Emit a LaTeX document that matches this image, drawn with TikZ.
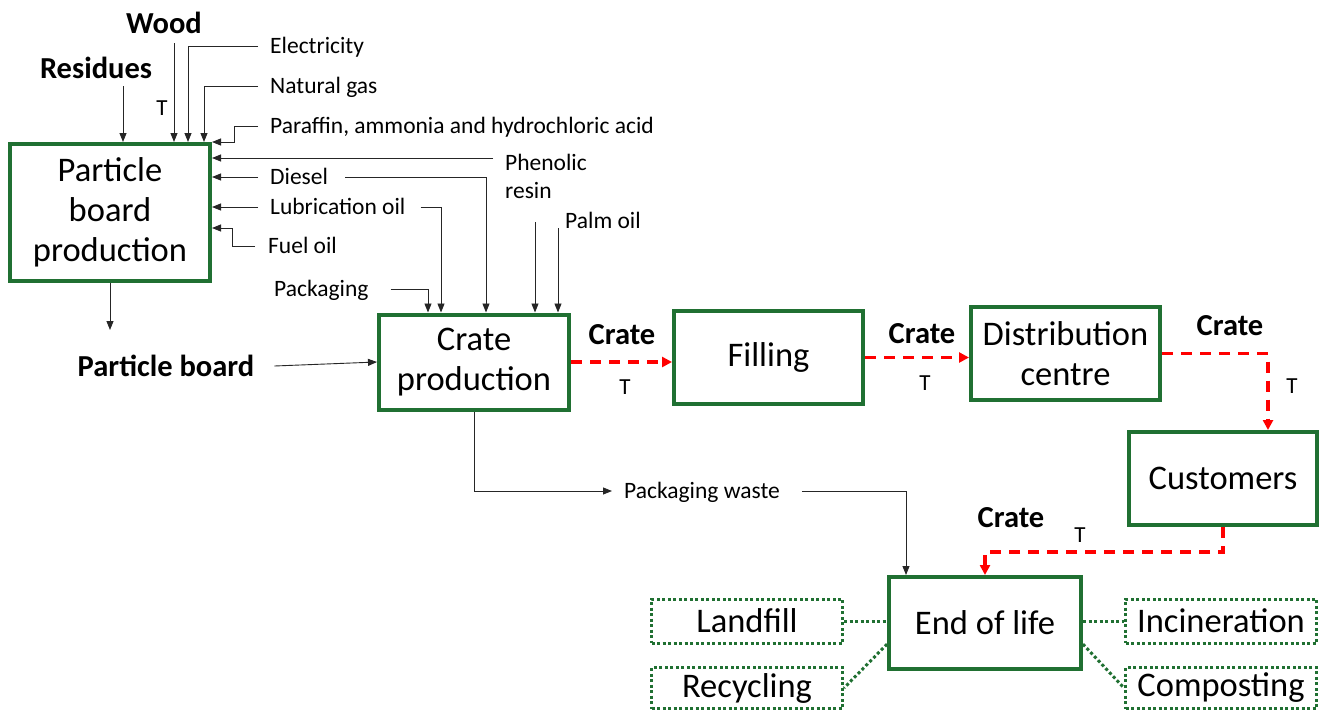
\documentclass[tikz,border=0pt]{standalone}
\usepackage{fontspec}
\setmainfont{Carlito}
\usetikzlibrary{arrows.meta,calc}
\definecolor{gr}{RGB}{32,112,50}
\begin{document}
\begin{tikzpicture}[x=1pt,y=-1pt,
 gbox/.style={draw=gr,line width=4pt,fill=white,align=center,inner sep=0pt,font=\fontsize{34.5}{40}\selectfont},
 dbox/.style={draw=gr,line width=3pt,dash pattern=on 3pt off 2.5pt,align=center,inner sep=0pt,font=\fontsize{34.5}{40}\selectfont},
 lbl/.style={inner sep=0pt,font=\fontsize{23.5}{28}\selectfont,text height=15pt,text depth=0pt},
 blbl/.style={inner sep=0pt,font=\fontsize{30.5}{35}\selectfont\bfseries},
 tl/.style={inner sep=0pt,font=\fontsize{23}{27}\selectfont},
 arr/.style={line width=0.9pt,draw=black!85,-{Triangle[length=9pt,width=7pt]}},
 rarr/.style={draw=red,line width=3.3pt,dash pattern=on 11pt off 8pt,-{Triangle[length=10pt,width=10pt]}},
 dln/.style={draw=gr,line width=3pt,dash pattern=on 3pt off 2.5pt}
]
\fill[white] (0,0) rectangle (1325,712);
\useasboundingbox (0,0) rectangle (1325,712);

% main boxes
\node[gbox,minimum width=200pt,minimum height=137pt] (pb) at (110,212.5) {Particle\\board\\production};
\node[gbox,minimum width=190pt,minimum height=95pt] (cp) at (474,362) {Crate\\production};
\node[gbox,minimum width=189pt,minimum height=93pt] (fi) at (768.5,357.5) {Filling};
\node[gbox,minimum width=189pt,minimum height=93pt] (dc) at (1065.5,353.5) {Distribution\\centre};
\node[gbox,minimum width=188pt,minimum height=93pt] (cu) at (1223,478.5) {Customers};
\node[gbox,minimum width=192pt,minimum height=92pt] (eol) at (985,623) {End of life};

% dotted boxes
\node[dbox,minimum width=191pt,minimum height=44pt] (lf) at (747,621) {Landfill};
\node[dbox,minimum width=191pt,minimum height=41pt] (re) at (747,688) {Recycling};
\node[dbox,minimum width=191pt,minimum height=44pt] (inc) at (1221,621) {Incineration};
\node[dbox,minimum width=191pt,minimum height=41pt] (co) at (1221,688) {Composting};

% labels
\node[blbl] (res) at (96,68) {Residues};
\node[blbl] (wood) at (164,23) {Wood};
\node[tl] (t0) at (162,108) {T};
\node[lbl,anchor=west] (elec) at (270,46) {Electricity};
\node[lbl,anchor=west] (ng) at (270,86) {Natural gas};
\node[lbl,anchor=west] (par) at (270,126) {Paraffin, ammonia and hydrochloric acid};
\node[inner sep=0pt,font=\fontsize{23.5}{28}\selectfont,align=left,anchor=north west] (phe) at (505,154) {Phenolic\\resin};
\node[lbl,anchor=west] (die) at (270,177) {Diesel};
\node[lbl,anchor=west] (lub) at (270,207) {Lubrication oil};
\node[lbl,anchor=west] (fuel) at (268,246) {Fuel oil};
\node[lbl,anchor=west] (pack) at (274,289) {Packaging};
\node[lbl,anchor=west] (palm) at (565,221) {Palm oil};
\node[lbl,anchor=west] (pw) at (624,491) {Packaging waste};
\node[blbl] (pbl) at (166,366) {Particle board};

\node[blbl] (c1) at (622,335) {Crate};
\node[blbl] (c2) at (922,334) {Crate};
\node[blbl] (c3) at (1230,326) {Crate};
\node[blbl] (c4) at (1011,518) {Crate};
\node[tl] (t1) at (625,387) {T};
\node[tl] (t2) at (925,383) {T};
\node[tl] (t3) at (1292,386) {T};
\node[tl] (t4) at (1080,535) {T};

% free ends
\coordinate (r1) at (123,86);
\coordinate (w1) at (174,43);
\coordinate (f1) at (232,228);
\coordinate (ph2) at (535,222);
\coordinate (po1) at (558,228);
\coordinate (pbo) at (110,330);
\coordinate (ph1) at ($(phe.north west)+(-12,4)$);

% inputs to particle board production
\draw[arr] (r1) -- (r1 |- pb.north);
\draw[arr] (w1) -- (w1 |- pb.north);
\draw[arr] ([xshift=-12pt]elec.west) -| ([xshift=180pt]pb.north west);
\draw[arr] ([xshift=-12pt]ng.west) -| ([xshift=196pt]pb.north west);
\draw[arr] ([xshift=-12pt]par.west) -| ([xshift=22pt]pb.north east) -- (pb.north east);
\draw[arr] (ph1) -- (ph1 -| pb.east);
\draw[arr] ([xshift=-12pt]die.west) -- (die.west -| pb.east);
\draw[arr] ([xshift=-12pt]lub.west) -- (lub.west -| pb.east);
\draw[arr] ([xshift=-13pt]fuel.west) -| (f1) -- (f1 -| pb.east);

% inputs to crate production
\draw[arr] ([xshift=17pt]die.east) -| ([xshift=12pt]cp.north);
\draw[arr] ([xshift=15pt]lub.east) -| ([xshift=-33pt]cp.north);
\draw[arr] ([xshift=22pt]pack.east) -| ([xshift=-46pt]cp.north);
\draw[arr] (ph2) -- (ph2 |- cp.north);
\draw[arr] (po1) -- (po1 |- cp.north);
\draw[arr] (pb.south) -- (pbo);
\draw[arr] ([xshift=20pt]pbl.east) -- (cp.west);

% crate flow
\draw[rarr] (cp.east) -- (cp.east -| fi.west);
\draw[rarr] (fi.east) -- (fi.east -| dc.west);
\draw[rarr] (dc.east) -| ([xshift=45pt]cu.north);
\draw[rarr] (cu.south) -- ++(0,25) -| (eol.north);

% packaging waste
\draw[arr] (cp.south) |- ([xshift=-12pt]pw.west);
\draw[arr] ([xshift=22pt]pw.east) -| ([xshift=-79pt]eol.north);

% end of life options
\draw[dln] (lf.east) -- (lf.east -| eol.west);
\draw[dln] (inc.west -| eol.east) -- (inc.west);
\draw[dln] ($(eol.north west)!0.72!(eol.south west)$) -- (re.east);
\draw[dln] ($(eol.north east)!0.72!(eol.south east)$) -- (co.west);
\end{tikzpicture}
\end{document}
